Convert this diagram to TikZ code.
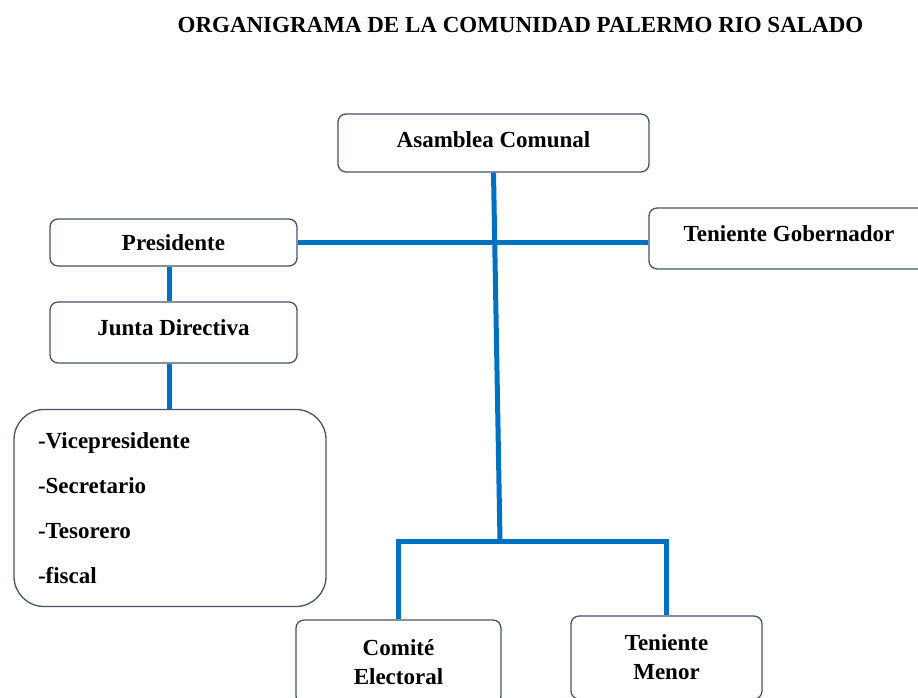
\documentclass[tikz,border=0pt]{standalone}
\usepackage{fontspec}
\setmainfont{Liberation Serif}
\usetikzlibrary{positioning}
\definecolor{azul}{RGB}{0,112,192}
\definecolor{borde}{RGB}{68,84,106}

\begin{document}
\begin{tikzpicture}[x=1pt, y=-1pt,
  caja/.style = {draw=borde, line width=1.3pt, rounded corners=8pt, fill=white,
    align=center, font=\fontsize{23}{29}\selectfont\bfseries},
  enlace/.style = {draw=azul, line width=5pt}]
\useasboundingbox (0,0) rectangle (918,697);
\node[font=\fontsize{23}{28}\selectfont\bfseries] (titulo) at (520.5,25) {ORGANIGRAMA DE LA COMUNIDAD PALERMO RIO SALADO};
\node[caja, minimum width=311pt, minimum height=58pt, text depth=7pt] (asamblea) at (493.5,143) {Asamblea Comunal};
\node[caja, minimum width=247pt, minimum height=47pt] (presidente) at (173.5,242.5) {Presidente};
\node[caja, minimum width=280pt, minimum height=61pt, text depth=9pt] (teniente) at (789,238.5) {Teniente Gobernador};
\node[caja, minimum width=247pt, minimum height=61pt, text depth=9pt] (junta) at (173.5,332.5) {Junta Directiva};
\node[caja, rounded corners=30pt, align=left, text width=264pt, inner xsep=24pt,
  minimum height=197pt, font=\fontsize{23}{45}\selectfont\bfseries] (cargos) at (170,508)
  {-Vicepresidente\\-Secretario\\-Tesorero\\-fiscal};
\node[caja, minimum width=205pt, minimum height=84pt] (comite) at (398.5,662) {Comité\\Electoral};
\node[caja, minimum width=191pt, minimum height=83pt] (menor) at (666.5,657.5) {Teniente\\Menor};
\coordinate (cruce) at (500,541);
\draw[enlace] (asamblea.south) -- (cruce);
\draw[enlace] (presidente.east) -- (presidente.east -| teniente.west);
\draw[enlace] (presidente.south -| 169,0) -- (junta.north -| 169,0);
\draw[enlace] (junta.south -| 169,0) -- (cargos.north -| 169,0);
\draw[enlace] (comite.north) |- (cruce) -| (menor.north);
\end{tikzpicture}
\end{document}
